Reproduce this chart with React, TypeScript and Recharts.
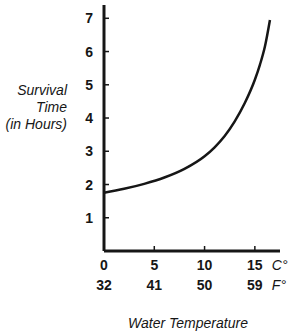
import React from "react";
import { LineChart, Line, XAxis, YAxis, Label } from "recharts";

// water temperature in °C and survival time in hours
const tempC = [0, 2, 4, 6, 8, 10, 11, 12, 13, 14, 15, 15.5, 16, 16.5];
const survivalHours = [1.75, 1.87, 2.02, 2.21, 2.47, 2.85, 3.12, 3.46, 3.9, 4.45, 5.15, 5.6, 6.15, 6.95];

const celsiusTicks = [0, 5, 10, 15];
const fahrenheitLabels = ["32", "41", "50", "59"];
const hourTicks = [1, 2, 3, 4, 5, 6, 7];
const yTitleLines = ["Survival", "Time", "(in Hours)"];
const xTitle = "Water Temperature";

const data = tempC.map((t, i) => ({ t, hours: survivalHours[i] }));

const INK = "#161616";
const FONT = "'Liberation Sans', Arial, sans-serif";

function XTick(props: any) {
  const { x, y, payload, index } = props;
  const last = index === celsiusTicks.length - 1;
  return (
    <g>
      <line x1={x} x2={x} y1={y} y2={y - 5} stroke={INK} strokeWidth={1.5} />
      <text x={x} y={y + 19} textAnchor="middle" fill={INK} fontSize={14} fontWeight="bold" fontFamily={FONT}>
        {payload.value}
      </text>
      <text x={x} y={y + 39} textAnchor="middle" fill={INK} fontSize={14} fontWeight="bold" fontFamily={FONT}>
        {fahrenheitLabels[index]}
      </text>
      {last && (
        <>
          <text x={x + 17} y={y + 19} fill={INK} fontSize={14} fontStyle="italic" fontFamily={FONT}>
            C°
          </text>
          <text x={x + 17} y={y + 39} fill={INK} fontSize={14} fontStyle="italic" fontFamily={FONT}>
            F°
          </text>
        </>
      )}
    </g>
  );
}

function YTick(props: any) {
  const { x, y, payload } = props;
  return (
    <g>
      <line x1={x} x2={x + 5} y1={y} y2={y} stroke={INK} strokeWidth={1.5} />
      <text x={x - 11} y={y + 5} textAnchor="end" fill={INK} fontSize={14} fontWeight="bold" fontFamily={FONT}>
        {payload.value}
      </text>
    </g>
  );
}

export default function App() {
  return (
    <div style={{ position: "absolute", left: 0, top: 0, background: "#fff" }}>
      <LineChart width={300} height={333} data={data} margin={{ top: 5, right: 20, bottom: 0, left: 0 }}>
        <XAxis
          dataKey="t"
          type="number"
          domain={[0, 17.5]}
          ticks={celsiusTicks}
          height={82}
          tickSize={0}
          tickMargin={0}
          tickLine={false}
          tick={<XTick />}
          axisLine={{ stroke: INK, strokeWidth: 3 }}
        >
          <Label
            content={(p: any) => {
              const vb = p.viewBox;
              return (
                <text x={vb.x + vb.width / 2 - 4} y={vb.y + 77} textAnchor="middle" fill={INK} fontSize={14} fontStyle="italic" fontFamily={FONT}>
                  {xTitle}
                </text>
              );
            }}
          />
        </XAxis>
        <YAxis
          type="number"
          domain={[0, 7.4]}
          ticks={hourTicks}
          width={104}
          tickSize={0}
          tickMargin={0}
          tickLine={false}
          tick={<YTick />}
          axisLine={{ stroke: INK, strokeWidth: 3 }}
        >
          <Label
            content={(p: any) => {
              const vb = p.viewBox;
              return (
                <text textAnchor="end" fill={INK} fontSize={14} fontStyle="italic" fontFamily={FONT}>
                  {yTitleLines.map((line, i) => (
                    <tspan key={line} x={vb.x + 67} y={vb.y + 90 + i * 17}>
                      {line}
                    </tspan>
                  ))}
                </text>
              );
            }}
          />
        </YAxis>
        <Line
          dataKey="hours"
          type="monotone"
          stroke={INK}
          strokeWidth={2.5}
          dot={false}
          isAnimationActive={false}
        />
      </LineChart>
    </div>
  );
}
